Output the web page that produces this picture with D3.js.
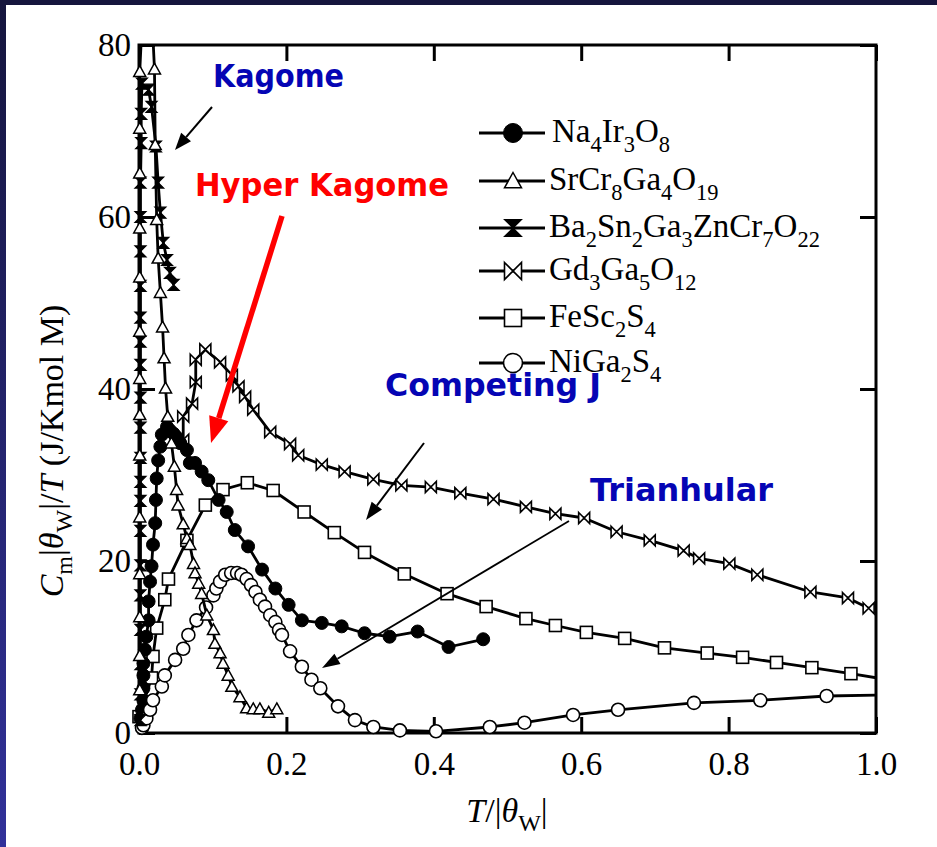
<!DOCTYPE html>
<html>
<head>
<meta charset="utf-8">
<script src="https://cdn.jsdelivr.net/npm/d3@7"></script>
<style>
  body { margin: 0; background: #fff; }
  svg { display: block; }
</style>
</head>
<body>
<svg id="chart" width="937" height="847"></svg>
<script>
// ---- data: [T/|θW|, Cm|θW|/T] ----
const xTicks = [0, 0.2, 0.4, 0.6, 0.8, 1.0];
const yTicks = [0, 20, 40, 60, 80];

const na4ir3o8 = [
  [0.002,1.7],[0.004,2.7],[0.006,3.8],[0.006,5.2],[0.006,6.7],[0.006,8.1],[0.008,9.7],[0.010,11.2],
  [0.013,13.1],[0.013,15.3],[0.015,17.6],[0.017,19.4],[0.019,21.9],[0.022,24.4],[0.023,27.1],[0.024,29.6],
  [0.026,31.7],[0.029,33.3],[0.031,34.7],[0.038,35.6],[0.042,35.2],[0.047,34.8],[0.051,34.4],[0.056,33.7],
  [0.065,32.9],[0.069,31.4],[0.076,31.4],[0.085,30.4],[0.094,29.4],[0.108,27.1],[0.119,25.7],[0.130,23.6],
  [0.148,21.7],[0.167,19.0],[0.185,16.8],[0.203,14.9],[0.221,13.1],[0.248,12.8],[0.275,12.4],[0.306,11.6],
  [0.340,11.2],[0.378,11.8],[0.420,10.0],[0.467,10.9]
];

const srcr8ga4o19 = [
  [0.001,5.0],[0.001,9.0],[0.001,13.5],[0.001,18.5],[0.001,25.1],[0.001,32.3],[0.001,37.0],[0.001,41.2],
  [0.001,46.7],[0.001,53.0],[0.001,58.7],[0.001,65.1],[0.001,70.3],[0.001,76.9],[0.011,95.0],[0.021,77.2],
  [0.022,68.4],[0.024,59.7],[0.026,55.2],[0.029,51.2],[0.032,47.2],[0.034,43.6],[0.036,40.1],[0.039,36.8],
  [0.044,33.7],[0.048,31.0],[0.051,28.3],[0.053,26.5],[0.060,24.3],[0.065,22.6],[0.069,21.9],[0.074,19.7],
  [0.076,18.6],[0.081,17.4],[0.085,16.2],[0.092,13.7],[0.101,12.0],[0.103,10.4],[0.110,9.3],[0.114,8.1],
  [0.121,6.7],[0.126,5.4],[0.137,4.2],[0.146,2.9],[0.155,2.8],[0.164,2.8],[0.176,2.4],[0.187,2.8]
];

const ba2sn2ga3zncr7o22 = [
  [0.002,1.5],[0.002,4.5],[0.002,8.0],[0.002,12.0],[0.002,16.0],[0.002,19.5],[0.002,23.5],[0.002,27.0],
  [0.002,29.2],[0.002,32.0],[0.002,35.5],[0.002,39.0],[0.002,42.8],[0.002,45.5],[0.002,48.3],[0.002,52.0],
  [0.002,56.0],[0.002,60.0],[0.002,64.0],[0.003,68.6],[0.003,72.0],[0.004,75.5],[0.013,74.8],[0.017,72.8],
  [0.023,68.2],[0.026,64.0],[0.029,60.5],[0.033,57.0],[0.038,55.0],[0.042,53.5],[0.047,52.1]
];

const gd3ga5o12 = [
  [0.060,34.1],[0.060,36.8],[0.072,38.3],[0.077,40.8],[0.077,43.4],[0.090,44.6],[0.110,43.1],[0.126,41.6],
  [0.135,40.3],[0.144,39.1],[0.155,37.6],[0.178,35.0],[0.205,33.6],[0.216,32.3],[0.248,31.2],[0.279,30.4],
  [0.318,29.5],[0.356,28.8],[0.396,28.6],[0.436,27.9],[0.481,27.2],[0.525,26.3],[0.565,25.5],[0.604,25.0],
  [0.648,23.4],[0.693,22.4],[0.739,21.2],[0.760,20.3],[0.801,19.7],[0.839,18.4],[0.911,16.4],[0.962,15.7],
  [0.990,14.5]
];

const fesc2s4 = [
  [0.000,1.9],[0.017,6.4],[0.019,8.9],[0.024,12.2],[0.035,15.5],[0.040,17.9],[0.065,22.4],[0.090,26.5],
  [0.114,28.3],[0.147,29.1],[0.182,28.2],[0.224,25.7],[0.265,23.3],[0.306,21.0],[0.360,18.5],[0.418,16.2],
  [0.471,14.7],[0.525,13.3],[0.565,12.5],[0.607,11.7],[0.659,11.0],[0.713,9.9],[0.771,9.3],[0.819,8.8],
  [0.865,8.2],[0.913,7.6],[0.966,6.9],[1.030,6.0]
];

const niga2s4 = [
  [0.004,0.6],[0.006,0.9],[0.010,1.7],[0.015,2.7],[0.019,3.8],[0.031,5.4],[0.035,6.7],[0.049,8.5],
  [0.060,9.8],[0.067,11.4],[0.078,13.1],[0.091,14.6],[0.101,16.0],[0.105,16.8],[0.110,17.6],[0.117,18.4],
  [0.125,18.6],[0.133,18.6],[0.139,18.4],[0.146,17.9],[0.152,17.2],[0.158,16.4],[0.164,15.5],[0.171,14.7],
  [0.178,13.7],[0.185,12.9],[0.190,12.0],[0.194,11.4],[0.205,9.5],[0.221,7.7],[0.234,6.2],[0.246,5.2],
  [0.270,3.1],[0.293,1.5],[0.318,0.7],[0.354,0.3],[0.403,0.2],[0.476,0.7],[0.523,1.2],[0.589,2.1],
  [0.650,2.7],[0.753,3.5],[0.843,3.8],[0.933,4.3],[1.060,4.5]
];

const seriesNames = ["Na4Ir3O8", "SrCr8Ga4O19", "Ba2Sn2Ga3ZnCr7O22", "Gd3Ga5O12", "FeSc2S4", "NiGa2S4"];
const seriesMarkers = ["dot", "triangle", "hourglass", "bowtie", "square", "circle"];
const seriesData = [na4ir3o8, srcr8ga4o19, ba2sn2ga3zncr7o22, gd3ga5o12, fesc2s4, niga2s4];

// ---- layout ----
const W = 937, H = 847;
const plot = { left: 139, right: 876, top: 45, bottom: 733 };
const serif = "'Liberation Serif','Times New Roman',serif";
const svg = d3.select("#chart");

const x = d3.scaleLinear().domain([0, 1]).range([plot.left, plot.right]);
const y = d3.scaleLinear().domain([0, 80]).range([plot.bottom, plot.top]);

// ---- slide-style backdrop ----
const defs = svg.append("defs");
const grad = defs.append("linearGradient").attr("id", "edge")
  .attr("x1", 0).attr("y1", 0).attr("x2", 0).attr("y2", 1);
grad.append("stop").attr("offset", "0%").attr("stop-color", "#15153d");
grad.append("stop").attr("offset", "100%").attr("stop-color", "#31319a");
svg.append("rect").attr("width", W).attr("height", H).attr("fill", "url(#edge)");
svg.append("rect").attr("width", W).attr("height", 5).attr("fill", "#15153d");
svg.append("rect").attr("x", 6).attr("y", 5).attr("width", W - 6).attr("height", H - 5).attr("fill", "#fff");

defs.append("clipPath").attr("id", "plotClip")
  .append("rect").attr("x", plot.left).attr("y", plot.top)
  .attr("width", plot.right - plot.left).attr("height", plot.bottom - plot.top);

// ---- axes (inward ticks on all four sides) ----
function styleAxis(g) {
  g.select(".domain").remove();
  g.selectAll(".tick line").attr("stroke", "#000").attr("stroke-width", 3);
  g.selectAll(".tick text").attr("fill", "#000").attr("font-family", serif).attr("font-size", 33);
}
svg.append("g").attr("transform", `translate(0,${plot.bottom})`)
  .call(d3.axisBottom(x).tickValues(xTicks).tickFormat(d3.format(".1f")).tickSize(-16).tickPadding(19))
  .call(styleAxis);
svg.append("g").attr("transform", `translate(0,${plot.top})`)
  .call(d3.axisTop(x).tickValues(xTicks).tickFormat("").tickSize(-16))
  .call(styleAxis);
svg.append("g").attr("transform", `translate(${plot.left},0)`)
  .call(d3.axisLeft(y).tickValues(yTicks).tickFormat(d3.format("d")).tickSize(-16).tickPadding(8))
  .call(styleAxis);
svg.append("g").attr("transform", `translate(${plot.right},0)`)
  .call(d3.axisRight(y).tickValues(yTicks).tickFormat("").tickSize(-16))
  .call(styleAxis);

svg.append("rect").attr("x", plot.left).attr("y", plot.top)
  .attr("width", plot.right - plot.left).attr("height", plot.bottom - plot.top)
  .attr("fill", "none").attr("stroke", "#000").attr("stroke-width", 3);

// ---- axis titles ----
const xt = svg.append("text").attr("x", 507).attr("y", 822).attr("text-anchor", "middle")
  .attr("font-family", serif).attr("font-size", 34).attr("fill", "#000");
xt.append("tspan").attr("font-style", "italic").text("T");
xt.append("tspan").text("/|");
xt.append("tspan").attr("font-style", "italic").text("θ");
xt.append("tspan").attr("font-size", 24).attr("dy", 9).text("W");
xt.append("tspan").attr("dy", -9).text("|");

const yt = svg.append("text").attr("transform", "translate(63,451) rotate(-90)")
  .attr("text-anchor", "middle").attr("font-family", serif).attr("font-size", 34).attr("fill", "#000");
yt.append("tspan").attr("font-style", "italic").text("C");
yt.append("tspan").attr("font-size", 24).attr("dy", 9).text("m");
yt.append("tspan").attr("dy", -9).text("|");
yt.append("tspan").attr("font-style", "italic").text("θ");
yt.append("tspan").attr("font-size", 24).attr("dy", 9).text("W");
yt.append("tspan").attr("dy", -9).text("|/");
yt.append("tspan").attr("font-style", "italic").text("T");
yt.append("tspan").text(" (J/Kmol M)");

// ---- marker shapes ----
function drawMarker(g, kind, s) {
  const h = s / 2;
  if (kind === "dot") {
    g.append("circle").attr("r", h).attr("fill", "#000").attr("stroke", "#000").attr("stroke-width", 1);
  } else if (kind === "circle") {
    g.append("circle").attr("r", h).attr("fill", "#fff").attr("stroke", "#000").attr("stroke-width", 1.6);
  } else if (kind === "square") {
    g.append("rect").attr("x", -h).attr("y", -h).attr("width", s).attr("height", s)
      .attr("fill", "#fff").attr("stroke", "#000").attr("stroke-width", 1.6);
  } else if (kind === "triangle") {
    g.append("path").attr("d", `M0,${-s * 0.5}L${h},${s * 0.4}L${-h},${s * 0.4}Z`)
      .attr("fill", "#fff").attr("stroke", "#000").attr("stroke-width", 1.5);
  } else if (kind === "hourglass") {
    g.append("path").attr("d", `M${-h},${-h}L${h},${-h}L${-h},${h}L${h},${h}Z`)
      .attr("fill", "#000").attr("stroke", "#000").attr("stroke-width", 1.2).attr("stroke-linejoin", "miter");
  } else if (kind === "bowtie") {
    g.append("path").attr("d", `M${-h},${-h}L${h},${h}L${h},${-h}L${-h},${h}Z`)
      .attr("fill", "#fff").attr("stroke", "#000").attr("stroke-width", 1.6);
  }
}

// ---- series ----
const line = d3.line().x(d => x(d[0])).y(d => y(d[1]));
const drawOrder = [3, 4, 0, 5, 2, 1];
const markerSize = { dot: 13, circle: 13, square: 12, triangle: 12, hourglass: 11, bowtie: 11 };

drawOrder.forEach(i => {
  const data = seriesData[i];
  const kind = seriesMarkers[i];
  svg.append("path").datum(data).attr("d", line)
    .attr("clip-path", "url(#plotClip)")
    .attr("fill", "none").attr("stroke", "#000").attr("stroke-width", 2.8).attr("stroke-linejoin", "round");
  const inside = data.filter(d => d[0] >= 0 && d[0] <= 1 && d[1] >= 0 && d[1] <= 80);
  svg.append("g").selectAll("g").data(inside).join("g")
    .attr("transform", d => `translate(${x(d[0])},${y(d[1])})`)
    .each(function () { drawMarker(d3.select(this), kind, markerSize[kind]); });
});

// ---- legend ----
const legendRows = [133, 181, 228, 271, 318, 363];
function formula(textSel, name, size) {
  const parts = name.match(/[A-Za-z]+|\d+/g);
  let sub = false;
  parts.forEach(p => {
    const isNum = /^\d+$/.test(p);
    const t = textSel.append("tspan").text(p);
    if (isNum && !sub) { t.attr("font-size", size * 0.68).attr("dy", size * 0.3); sub = true; }
    else if (!isNum && sub) { t.attr("dy", -size * 0.3); sub = false; }
    else if (isNum) { t.attr("font-size", size * 0.68); }
  });
}
seriesNames.forEach((name, i) => {
  const cy = legendRows[i];
  const g = svg.append("g");
  g.append("line").attr("x1", 479).attr("x2", 545).attr("y1", cy).attr("y2", cy)
    .attr("stroke", "#000").attr("stroke-width", 2.8);
  const m = g.append("g").attr("transform", `translate(513,${cy})`);
  drawMarker(m, seriesMarkers[i], seriesMarkers[i] === "dot" || seriesMarkers[i] === "circle" ? 19 : 17);
  const t = g.append("text").attr("x", i === 0 ? 552 : 549).attr("y", cy + 9)
    .attr("font-family", serif).attr("font-size", 33).attr("fill", "#000");
  formula(t, name, 33);
});

// ---- annotations ----
function note(text, x0, x1, base, color) {
  svg.append("text").attr("x", x0).attr("y", base)
    .attr("textLength", x1 - x0).attr("lengthAdjust", "spacingAndGlyphs")
    .attr("font-family", "'DejaVu Sans',sans-serif").attr("font-weight", "bold")
    .attr("font-size", 32).attr("fill", color).text(text);
}
function arrow(x1, y1, x2, y2, color, width, headLen, headW) {
  const a = Math.atan2(y2 - y1, x2 - x1);
  const bx = x2 - headLen * Math.cos(a), by = y2 - headLen * Math.sin(a);
  svg.append("line").attr("x1", x1).attr("y1", y1).attr("x2", bx).attr("y2", by)
    .attr("stroke", color).attr("stroke-width", width);
  const px = -Math.sin(a) * headW / 2, py = Math.cos(a) * headW / 2;
  svg.append("path").attr("d", `M${x2},${y2}L${bx + px},${by + py}L${bx - px},${by - py}Z`).attr("fill", color);
}

const blue = "#0505b4";
note("Kagome", 213, 344, 87, blue);
note("Hyper Kagome", 195, 449, 196, "#ff0000");
note("Competing J", 385, 601, 396, blue);
note("Trianhular", 590, 773, 501, blue);

arrow(212, 107, 175, 150, "#000", 2, 17, 13);
arrow(282, 216, 211, 443, "#ff0000", 5.5, 26, 20);
arrow(424, 443, 366, 520, "#000", 2, 18, 13);
arrow(569, 521, 322, 668, "#000", 1.8, 18, 12);
</script>
</body>
</html>
